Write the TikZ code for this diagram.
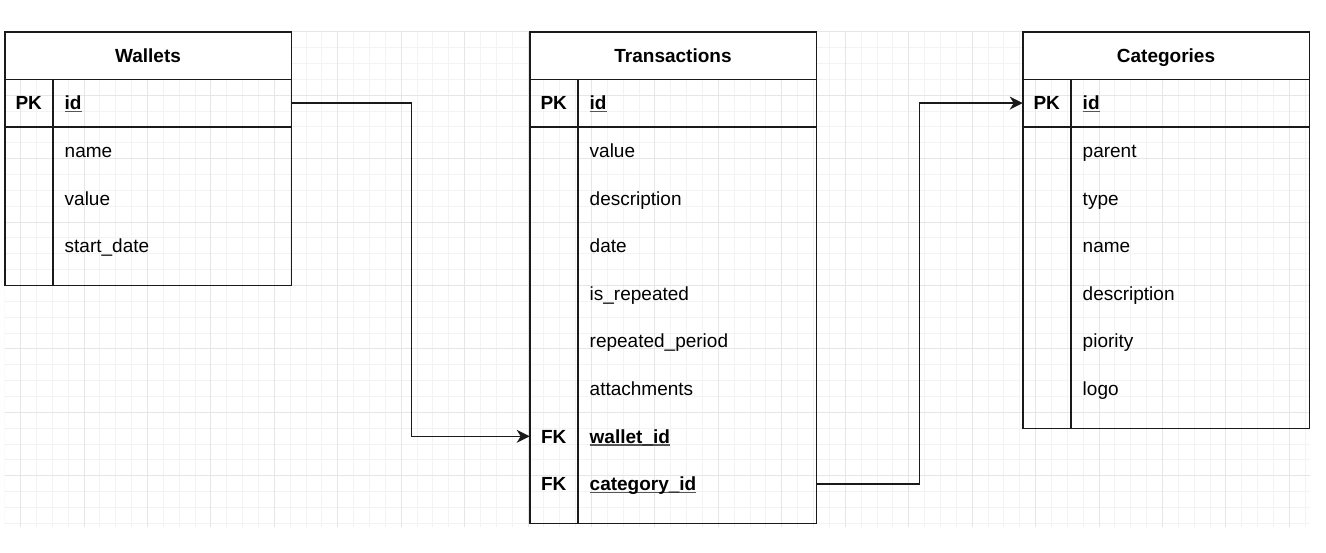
\documentclass[tikz,border=0pt]{standalone}
\usepackage{fontspec}
\setmainfont{Liberation Sans}
\usetikzlibrary{positioning, arrows.meta}
\definecolor{gridminor}{HTML}{F3F3F3}
\definecolor{gridmajor}{HTML}{E6E6E6}
\definecolor{edge}{HTML}{1A1A1A}
\definecolor{underl}{HTML}{555555}
\newcommand{\keyname}[1]{\setbox0\hbox{#1}\rlap{\color{underl}\rule[-1.3pt]{\wd0}{0.6pt}}\box0}
\tikzset{>={Stealth[length=6.5pt, width=6.5pt, inset=2pt]},
  every node/.style={font=\fontsize{9.5pt}{11pt}\selectfont, text height=8pt, text depth=1.3pt,
    outer sep=0pt},
  tablehead/.style={draw=edge, fill=white, anchor=north west, minimum width=143.3pt,
    minimum height=23.8pt, inner sep=0pt, font=\fontsize{9.5pt}{11pt}\selectfont\bfseries},
  keycell/.style={anchor=north west, minimum width=24pt, minimum height=23.8pt, inner sep=0pt,
    font=\fontsize{9.5pt}{11pt}\selectfont\bfseries},
  field/.style={anchor=north west, text width=107.3pt, inner xsep=6pt, inner ysep=0pt,
    minimum height=23.8pt, align=left},
  keyfield/.style={field, font=\fontsize{9.5pt}{11pt}\selectfont\bfseries},
  link/.style={->, draw=edge}}

\begin{document}
\begin{tikzpicture}[line width=0.8pt]
    \useasboundingbox (0,0) rectangle (663pt,-276pt);
    % grid
    \begin{scope}
        \clip (2.35pt,-15.85pt) rectangle (655pt,-263pt);
        \foreach \i in {0,...,82}
            \draw[gridminor, line width=0.5pt] ({2.35pt+\i*7.93pt},-15.85pt) -- ++(0,-248pt);
        \foreach \j in {0,...,31}
            \draw[gridminor, line width=0.5pt] (2.35pt,{-15.85pt-\j*7.93pt}) -- ++(653pt,0);
        \foreach \i in {0,...,20}
            \draw[gridmajor, line width=0.5pt] ({10.28pt+\i*31.72pt},-15.85pt) -- ++(0,-248pt);
        \foreach \j in {0,...,7}
            \draw[gridmajor, line width=0.5pt] (2.35pt,{-15.85pt-\j*31.72pt}) -- ++(653pt,0);
    \end{scope}

    % Wallets
    \node[tablehead] (wal) at (2.35pt,-15.85pt) {Wallets};
    \node[keycell] (wal-pk) at (wal.south west) {PK};
    \node[keyfield] (wal-id) at (wal-pk.north east) {\keyname{id}};
    \node[field, below=0pt of wal-id] (wal-name) {name};
    \node[field, below=0pt of wal-name] (wal-value) {value};
    \node[field, below=0pt of wal-value] (wal-start) {start\_date};
    \coordinate[below=7.9pt of wal-start.south east] (wal-end);
    \draw[edge] (wal.south west) rectangle (wal-end);
    \draw[edge] (wal-pk.south west) -- (wal-id.south east);
    \draw[edge] (wal-pk.north east) -- (wal-pk.north east |- wal-end);

    % Transactions
    \node[tablehead] (tra) at (264.85pt,-15.85pt) {Transactions};
    \node[keycell] (tra-pk) at (tra.south west) {PK};
    \node[keyfield] (tra-id) at (tra-pk.north east) {\keyname{id}};
    \node[field, below=0pt of tra-id] (tra-value) {value};
    \node[field, below=0pt of tra-value] (tra-desc) {description};
    \node[field, below=0pt of tra-desc] (tra-date) {date};
    \node[field, below=0pt of tra-date] (tra-rep) {is\_repeated};
    \node[field, below=0pt of tra-rep] (tra-period) {repeated\_period};
    \node[field, below=0pt of tra-period] (tra-att) {attachments};
    \node[keyfield, below=0pt of tra-att] (tra-wallet) {\keyname{wallet\_id}};
    \node[keyfield, below=0pt of tra-wallet] (tra-cat) {\keyname{category\_id}};
    \node[keycell, left=0pt of tra-wallet] (tra-wallet-k) {FK};
    \node[keycell, left=0pt of tra-cat] (tra-cat-k) {FK};
    \coordinate[below=7.9pt of tra-cat.south east] (tra-end);
    \draw[edge] (tra.south west) rectangle (tra-end);
    \draw[edge] (tra-pk.south west) -- (tra-id.south east);
    \draw[edge] (tra-pk.north east) -- (tra-pk.north east |- tra-end);

    % Categories
    \node[tablehead] (cat) at (511.35pt,-15.85pt) {Categories};
    \node[keycell] (cat-pk) at (cat.south west) {PK};
    \node[keyfield] (cat-id) at (cat-pk.north east) {\keyname{id}};
    \node[field, below=0pt of cat-id] (cat-parent) {parent};
    \node[field, below=0pt of cat-parent] (cat-type) {type};
    \node[field, below=0pt of cat-type] (cat-name) {name};
    \node[field, below=0pt of cat-name] (cat-desc) {description};
    \node[field, below=0pt of cat-desc] (cat-prio) {piority};
    \node[field, below=0pt of cat-prio] (cat-logo) {logo};
    \coordinate[below=7.9pt of cat-logo.south east] (cat-end);
    \draw[edge] (cat.south west) rectangle (cat-end);
    \draw[edge] (cat-pk.south west) -- (cat-id.south east);
    \draw[edge] (cat-pk.north east) -- (cat-pk.north east |- cat-end);

    % relations
    \draw[link] (wal-id.east) -- ++(60pt,0) |- (tra-wallet-k.west);
    \draw[link] (tra-cat.east) -- ++(51.5pt,0) |- (cat-pk.west);
\end{tikzpicture}
\end{document}
